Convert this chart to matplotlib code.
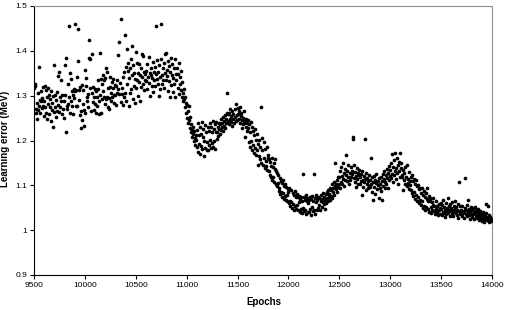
# -*- coding: utf-8 -*-

import numpy as np
import matplotlib
matplotlib.use('Agg')
import matplotlib.pyplot as plt

plt.rcParams['font.family'] = ['Liberation Sans', 'DejaVu Sans']

# learning error (MeV), one point every 5 epochs, rows of 100 epochs
err = [
    # 9500
    1.318, 1.325, 1.322, 1.262, 1.271, 1.248, 1.283, 1.268, 1.305, 1.365, 1.276, 1.291, 1.262, 1.287, 1.310, 1.272, 1.294, 1.278, 1.319, 1.255,
    # 9600
    1.288, 1.321, 1.274, 1.262, 1.312, 1.296, 1.249, 1.281, 1.316, 1.259, 1.301, 1.275, 1.293, 1.244, 1.310, 1.268, 1.283, 1.229, 1.299, 1.264,
    # 9700
    1.369, 1.301, 1.274, 1.252, 1.290, 1.308, 1.266, 1.343, 1.280, 1.353, 1.263, 1.296, 1.275, 1.287, 1.334, 1.259, 1.302, 1.271, 1.289, 1.250,
    # 9800
    1.368, 1.302, 1.218, 1.385, 1.276, 1.270, 1.326, 1.281, 1.455, 1.296, 1.350, 1.262, 1.338, 1.287, 1.311, 1.278, 1.301, 1.260, 1.314, 1.295,
    # 9900
    1.460, 1.310, 1.276, 1.312, 1.342, 1.276, 1.448, 1.377, 1.290, 1.312, 1.256, 1.319, 1.228, 1.265, 1.245, 1.323, 1.281, 1.312, 1.232, 1.268,
    # 10000
    1.358, 1.262, 1.321, 1.340, 1.298, 1.288, 1.304, 1.275, 1.384, 1.425, 1.381, 1.317, 1.266, 1.394, 1.306, 1.320, 1.286, 1.297, 1.269, 1.315,
    # 10100
    1.281, 1.311, 1.262, 1.298, 1.276, 1.314, 1.334, 1.287, 1.258, 1.395, 1.302, 1.262, 1.337, 1.293, 1.326, 1.311, 1.347, 1.296, 1.335, 1.282,
    # 10200
    1.340, 1.293, 1.362, 1.298, 1.352, 1.275, 1.317, 1.295, 1.270, 1.342, 1.319, 1.305, 1.289, 1.330, 1.296, 1.316, 1.338, 1.301, 1.283, 1.324,
    # 10300
    1.302, 1.321, 1.279, 1.306, 1.334, 1.315, 1.390, 1.420, 1.303, 1.329, 1.470, 1.286, 1.303, 1.316, 1.342, 1.280, 1.353, 1.296, 1.435, 1.307,
    # 10400
    1.363, 1.288, 1.326, 1.405, 1.372, 1.354, 1.276, 1.340, 1.361, 1.305, 1.382, 1.315, 1.410, 1.347, 1.292, 1.368, 1.322, 1.351, 1.283, 1.337,
    # 10500
    1.398, 1.318, 1.372, 1.336, 1.351, 1.299, 1.370, 1.330, 1.345, 1.288, 1.362, 1.320, 1.394, 1.341, 1.327, 1.389, 1.353, 1.313, 1.336, 1.348,
    # 10600
    1.332, 1.356, 1.371, 1.315, 1.342, 1.386, 1.328, 1.351, 1.299, 1.347, 1.362, 1.322, 1.339, 1.375, 1.308, 1.353, 1.334, 1.365, 1.321, 1.349,
    # 10700
    1.455, 1.338, 1.380, 1.327, 1.352, 1.299, 1.368, 1.342, 1.315, 1.382, 1.460, 1.347, 1.326, 1.361, 1.334, 1.372, 1.318, 1.350, 1.393, 1.336,
    # 10800
    1.396, 1.344, 1.358, 1.311, 1.378, 1.332, 1.367, 1.298, 1.352, 1.385, 1.324, 1.346, 1.370, 1.309, 1.339, 1.362, 1.325, 1.381, 1.297, 1.348,
    # 10900
    1.335, 1.362, 1.318, 1.349, 1.304, 1.372, 1.327, 1.341, 1.312, 1.356, 1.296, 1.330, 1.305, 1.288, 1.315, 1.293, 1.275, 1.298, 1.262, 1.284,
    # 11000
    1.279, 1.250, 1.266, 1.239, 1.277, 1.245, 1.228, 1.252, 1.219, 1.236, 1.224, 1.208, 1.231, 1.215, 1.198, 1.222, 1.205, 1.190, 1.212, 1.201,
    # 11100
    1.224, 1.186, 1.238, 1.175, 1.212, 1.193, 1.231, 1.169, 1.215, 1.188, 1.242, 1.181, 1.207, 1.226, 1.165, 1.198, 1.235, 1.184, 1.219, 1.178,
    # 11200
    1.196, 1.229, 1.178, 1.221, 1.189, 1.240, 1.202, 1.183, 1.231, 1.194, 1.218, 1.244, 1.186, 1.225, 1.199, 1.236, 1.181, 1.220, 1.241, 1.203,
    # 11300
    1.218, 1.231, 1.209, 1.226, 1.240, 1.215, 1.236, 1.224, 1.247, 1.229, 1.238, 1.221, 1.252, 1.233, 1.244, 1.227, 1.256, 1.239, 1.248, 1.262,
    # 11400
    1.307, 1.244, 1.258, 1.236, 1.262, 1.249, 1.271, 1.241, 1.255, 1.232, 1.266, 1.247, 1.259, 1.238, 1.252, 1.270, 1.243, 1.281, 1.256, 1.246,
    # 11500
    1.272, 1.258, 1.265, 1.247, 1.275, 1.240, 1.254, 1.262, 1.228, 1.245, 1.251, 1.236, 1.266, 1.239, 1.245, 1.208, 1.231, 1.249, 1.222, 1.238,
    # 11600
    1.228, 1.245, 1.196, 1.236, 1.185, 1.219, 1.241, 1.199, 1.178, 1.230, 1.190, 1.222, 1.173, 1.212, 1.183, 1.226, 1.168, 1.201, 1.215, 1.179,
    # 11700
    1.145, 1.193, 1.165, 1.201, 1.158, 1.185, 1.275, 1.150, 1.179, 1.205, 1.146, 1.197, 1.161, 1.138, 1.182, 1.155, 1.143, 1.186, 1.134, 1.168,
    # 11800
    1.162, 1.133, 1.158, 1.124, 1.151, 1.119, 1.143, 1.160, 1.112, 1.140, 1.118, 1.149, 1.107, 1.137, 1.158, 1.103, 1.131, 1.098, 1.127, 1.106,
    # 11900
    1.124, 1.095, 1.088, 1.117, 1.080, 1.110, 1.086, 1.074, 1.106, 1.082, 1.113, 1.070, 1.099, 1.077, 1.104, 1.068, 1.097, 1.079, 1.064, 1.092,
    # 12000
    1.086, 1.061, 1.095, 1.066, 1.055, 1.089, 1.063, 1.050, 1.083, 1.059, 1.044, 1.079, 1.088, 1.054, 1.074, 1.048, 1.081, 1.057, 1.045, 1.073,
    # 12100
    1.062, 1.077, 1.040, 1.070, 1.047, 1.073, 1.038, 1.066, 1.125, 1.049, 1.075, 1.042, 1.068, 1.046, 1.079, 1.036, 1.064, 1.071, 1.041, 1.060,
    # 12200
    1.067, 1.040, 1.075, 1.048, 1.033, 1.069, 1.052, 1.077, 1.042, 1.065, 1.046, 1.125, 1.071, 1.037, 1.063, 1.079, 1.044, 1.068, 1.050, 1.073,
    # 12300
    1.057, 1.071, 1.046, 1.066, 1.078, 1.052, 1.069, 1.062, 1.083, 1.058, 1.075, 1.048, 1.067, 1.080, 1.061, 1.086, 1.072, 1.064, 1.090, 1.074,
    # 12400
    1.081, 1.068, 1.095, 1.077, 1.089, 1.102, 1.072, 1.094, 1.085, 1.108, 1.079, 1.098, 1.150, 1.091, 1.104, 1.086, 1.112, 1.097, 1.119, 1.102,
    # 12500
    1.118, 1.095, 1.131, 1.108, 1.142, 1.121, 1.104, 1.149, 1.115, 1.127, 1.098, 1.136, 1.112, 1.124, 1.167, 1.109, 1.132, 1.119, 1.145, 1.103,
    # 12600
    1.128, 1.112, 1.140, 1.119, 1.133, 1.125, 1.208, 1.204, 1.116, 1.146, 1.108, 1.130, 1.121, 1.097, 1.138, 1.114, 1.127, 1.103, 1.122, 1.135,
    # 12700
    1.118, 1.102, 1.125, 1.109, 1.078, 1.131, 1.112, 1.096, 1.121, 1.107, 1.203, 1.115, 1.089, 1.128, 1.104, 1.117, 1.093, 1.110, 1.124, 1.099,
    # 12800
    1.111, 1.096, 1.160, 1.102, 1.118, 1.085, 1.108, 1.067, 1.121, 1.097, 1.113, 1.081, 1.105, 1.126, 1.092, 1.109, 1.101, 1.072, 1.116, 1.094,
    # 12900
    1.104, 1.119, 1.088, 1.110, 1.067, 1.125, 1.098, 1.115, 1.131, 1.093, 1.108, 1.122, 1.103, 1.137, 1.116, 1.095, 1.128, 1.112, 1.143, 1.120,
    # 13000
    1.134, 1.117, 1.150, 1.126, 1.170, 1.108, 1.141, 1.122, 1.156, 1.131, 1.172, 1.115, 1.138, 1.160, 1.127, 1.145, 1.103, 1.133, 1.152, 1.119,
    # 13100
    1.172, 1.138, 1.150, 1.124, 1.118, 1.135, 1.089, 1.127, 1.112, 1.141, 1.103, 1.119, 1.145, 1.098, 1.115, 1.106, 1.129, 1.092, 1.110, 1.101,
    # 13200
    1.118, 1.090, 1.123, 1.082, 1.109, 1.076, 1.115, 1.086, 1.070, 1.104, 1.079, 1.112, 1.065, 1.098, 1.074, 1.101, 1.061, 1.092, 1.068, 1.095,
    # 13300
    1.083, 1.056, 1.094, 1.064, 1.050, 1.079, 1.088, 1.054, 1.073, 1.045, 1.082, 1.052, 1.070, 1.094, 1.047, 1.066, 1.077, 1.041, 1.064, 1.071,
    # 13400
    1.051, 1.039, 1.062, 1.045, 1.056, 1.071, 1.042, 1.053, 1.036, 1.048, 1.064, 1.040, 1.054, 1.046, 1.033, 1.058, 1.044, 1.050, 1.037, 1.061,
    # 13500
    1.047, 1.033, 1.056, 1.041, 1.068, 1.038, 1.052, 1.029, 1.044, 1.061, 1.035, 1.049, 1.042, 1.071, 1.039, 1.055, 1.046, 1.032, 1.058, 1.043,
    # 13600
    1.050, 1.037, 1.062, 1.044, 1.031, 1.055, 1.041, 1.048, 1.066, 1.039, 1.052, 1.034, 1.045, 1.027, 1.058, 1.107, 1.042, 1.036, 1.053, 1.040,
    # 13700
    1.046, 1.031, 1.054, 1.039, 1.043, 1.028, 1.050, 1.116, 1.037, 1.045, 1.032, 1.056, 1.041, 1.067, 1.034, 1.048, 1.025, 1.042, 1.051, 1.036,
    # 13800
    1.044, 1.029, 1.049, 1.035, 1.041, 1.024, 1.052, 1.038, 1.031, 1.046, 1.027, 1.040, 1.034, 1.048, 1.022, 1.037, 1.043, 1.030, 1.036, 1.026,
    # 13900
    1.033, 1.021, 1.040, 1.028, 1.036, 1.018, 1.031, 1.025, 1.038, 1.058, 1.022, 1.030, 1.055, 1.027, 1.019, 1.034, 1.024, 1.029, 1.020, 1.026,
    # 14000
    1.024,
]
epochs = 9500 + 5 * np.arange(len(err))

x_ticks = [9500, 10000, 10500, 11000, 11500, 12000, 12500, 13000, 13500, 14000]
y_ticks = [0.9, 1.0, 1.1, 1.2, 1.3, 1.4, 1.5]
y_tick_labels = ['0.9', '1', '1.1', '1.2', '1.3', '1.4', '1.5']


def main():
    fig = plt.figure(figsize=(5.05, 3.10), dpi=100)
    ax = fig.add_axes([34 / 505, 35 / 310, 458 / 505, 269 / 310])

    ax.scatter(epochs, err, s=7, c='black', linewidths=0, zorder=3)

    ax.set_xlim(9500, 14000)
    ax.set_ylim(0.9, 1.5)
    ax.set_xticks(x_ticks)
    ax.set_yticks(y_ticks)
    ax.set_yticklabels(y_tick_labels)
    ax.tick_params(direction='out', length=3, width=0.8, labelsize=6, pad=2, colors='black')

    ax.spines['left'].set_color('black')
    ax.spines['bottom'].set_color('black')
    ax.spines['top'].set_color('#909090')
    ax.spines['right'].set_color('#909090')
    for s in ax.spines.values():
        s.set_linewidth(0.8)

    ax.set_xlabel('Epochs', fontsize=7, fontweight='bold')
    ax.set_ylabel('Learning error (MeV)', fontsize=7, fontweight='bold')
    ax.xaxis.set_label_coords(0.502, -0.082)
    ax.yaxis.set_label_coords(-0.052, 0.506)

    fig.savefig('out.png', dpi=100, facecolor='white')


if __name__ == '__main__':
    main()
